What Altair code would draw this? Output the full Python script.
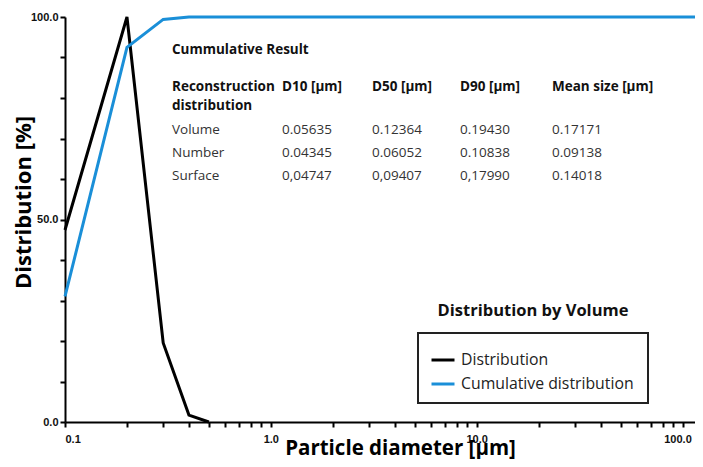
import altair as alt
import pandas as pd

# ---- data ----
dist_x = [0.1, 0.2, 0.3, 0.4, 0.5]
dist_y = [47.4, 100.0, 19.5, 1.7, 0.0]
cum_x = [0.1, 0.2, 0.3, 0.4, 1.0, 10.0, 115.0]
cum_y = [31.0, 92.5, 99.4, 100.0, 100.0, 100.0, 100.0]
series_names = ["Distribution", "Cumulative distribution"]
series_colors = ["#000000", "#1a8fd8"]

x_ticks = [0.1, 0.2, 0.3, 0.4, 0.5, 0.6, 0.7, 0.8, 0.9,
           1, 2, 3, 4, 5, 6, 7, 8, 9,
           10, 20, 30, 40, 50, 60, 70, 80, 90, 100]
y_ticks = [0, 10, 20, 30, 40, 50, 60, 70, 80, 90, 100]

table_title = "Cummulative Result"
table_header = ["Reconstruction", "D10 [µm]", "D50 [µm]", "D90 [µm]", "Mean size [µm]"]
table_header2 = "distribution"
row_names = ["Volume", "Number", "Surface"]
row_values = [
    ["0.05635", "0.12364", "0.19430", "0.17171"],
    ["0.04345", "0.06052", "0.10838", "0.09138"],
    ["0,04747", "0,09407", "0,17990", "0.14018"],
]
legend_title = "Distribution by Volume"

# ---- frames ----
lines = pd.DataFrame(
    {"x": dist_x + cum_x,
     "y": dist_y + cum_y,
     "series": [series_names[0]] * len(dist_x) + [series_names[1]] * len(cum_x),
     "order": list(range(len(dist_x))) + list(range(len(cum_x)))}
)

FONT = "Open Sans"

xscale = alt.Scale(type="log", domain=[0.1, 115], nice=False)
yscale = alt.Scale(domain=[0, 100], nice=False)

line_layer = alt.Chart(lines).mark_line(strokeWidth=3, clip=False).encode(
    x=alt.X("x:Q", scale=xscale,
            axis=alt.Axis(title="Particle diameter [µm]", values=x_ticks,
                          labelExpr="(abs(log(datum.value)/log(10) - round(log(datum.value)/log(10))) < 0.001) ? format(datum.value, '.1f') : ''",
                          labelOffset={"condition": {"test": "datum.value >= 99", "value": -5}, "value": 0},
                          grid=False, titleX=335, titleY=32, titleAlign="center",
                          titleBaseline="alphabetic",
                          titleFontSize=20.5, labelPadding=6)),
    y=alt.Y("y:Q", scale=yscale,
            axis=alt.Axis(title="Distribution [%]", values=y_ticks,
                          labelExpr="datum.value % 50 == 0 ? format(datum.value, '.1f') : ''",
                          grid=False, titleX=-42, titleY=185, titleAlign="center",
                          titleBaseline="middle",
                          titleFontSize=22, labelPadding=2)),
    color=alt.Color("series:N", sort=series_names,
                    scale=alt.Scale(domain=series_names, range=series_colors),
                    legend=alt.Legend(title=None, orient="none", legendX=365, legendY=330,
                                      symbolType="stroke", symbolSize=529,
                                      symbolStrokeWidth=3, labelFontSize=15.8,
                                      labelFont=FONT, labelColor="#222222",
                                      labelLimit=400,
                                      rowPadding=3, labelOffset=5)),
    order="order:Q",
)

# legend box and title
box = alt.Chart(pd.DataFrame({"a": [0]})).mark_rect(
    fill=None, stroke="#222222", strokeWidth=2
).encode(x=alt.value(353), x2=alt.value(583), y=alt.value(316), y2=alt.value(386))

leg_title = alt.Chart(pd.DataFrame({"t": [legend_title]})).mark_text(
    font=FONT, fontSize=16.5, fontWeight="bold", align="center", baseline="middle", color="#111111"
).encode(text="t:N", x=alt.value(468), y=alt.value(294))

# table text
cells = []
cells.append({"t": table_title, "px": 107, "py": 33, "w": "bold"})
hx = [107, 217, 307, 395, 487]
for t, px in zip(table_header, hx):
    cells.append({"t": t, "px": px, "py": 70, "w": "bold"})
cells.append({"t": table_header2, "px": 107, "py": 89, "w": "bold"})
for i, (rn, vals) in enumerate(zip(row_names, row_values)):
    py = 113 + i * 23
    cells.append({"t": rn, "px": 107, "py": py, "w": "normal"})
    for v, px in zip(vals, hx[1:]):
        cells.append({"t": v, "px": px, "py": py, "w": "normal"})
cells_df = pd.DataFrame(cells)

bold_txt = alt.Chart(cells_df[cells_df.w == "bold"]).mark_text(
    font=FONT, fontSize=13.5, fontWeight="bold", align="left", baseline="middle", color="#111111"
).encode(text="t:N", x=alt.X("px:Q", scale=None), y=alt.Y("py:Q", scale=None))
norm_txt = alt.Chart(cells_df[cells_df.w == "normal"]).mark_text(
    font=FONT, fontSize=13.5, align="left", baseline="middle", color="#333333"
).encode(text="t:N", x=alt.X("px:Q", scale=None), y=alt.Y("py:Q", scale=None))

chart = alt.layer(line_layer, box, leg_title, bold_txt, norm_txt).properties(
    width=630, height=405,
    autosize=alt.AutoSizeParams(type="none"),
    padding={"left": 57, "top": 9, "right": 0, "bottom": 37},
).configure_view(stroke=None).configure_axis(
    domainColor="#000000", domainWidth=2, tickColor="#000000", tickWidth=2, tickSize=5,
    labelFont="Liberation Sans", labelFontWeight="bold", labelFontSize=11, labelColor="#111111",
    titleFont=FONT, titleFontWeight="bold", titleColor="#000000",
)

chart.save("out.html", embed_options={"renderer": "svg", "actions": False})
